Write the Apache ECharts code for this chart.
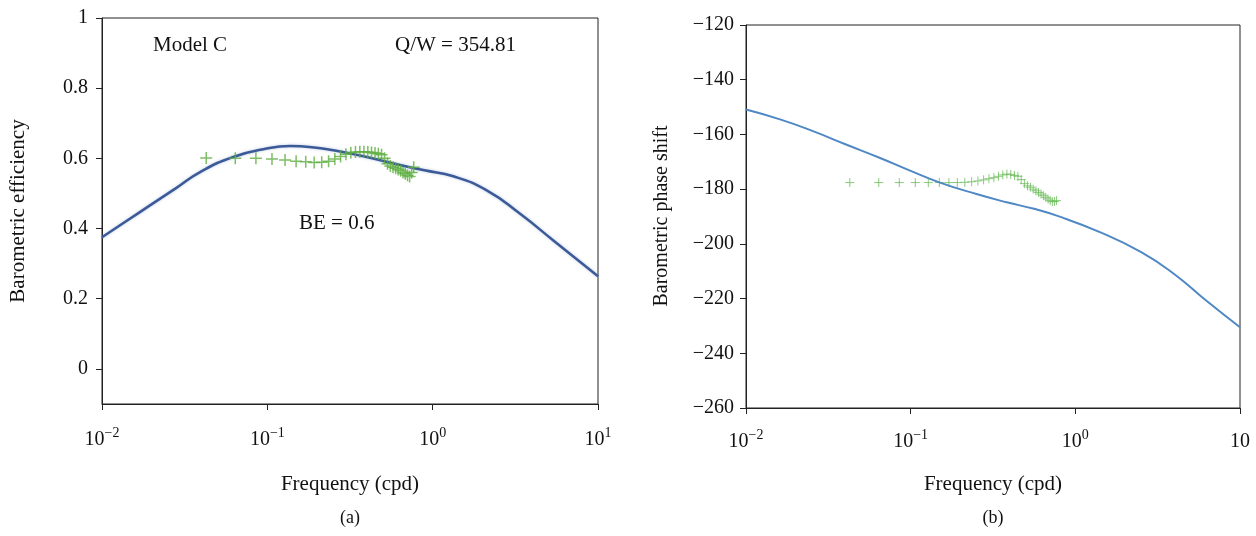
<!DOCTYPE html>
<html>
<head>
<meta charset="utf-8">
<script src="https://cdn.jsdelivr.net/npm/echarts@6/dist/echarts.min.js"></script>
<style>
html,body{margin:0;padding:0;background:#fff;}
#chart{width:1256px;height:536px;}
</style>
</head>
<body>
<div id="chart"></div>
<script>
// Measured frequencies (cpd) of the observed points, shared by both panels
const obsFreq = [0.0427,0.0640,0.0853,0.1067,0.1280,0.1493,0.1707,0.1920,0.2133,0.2347,0.2560,0.2773,0.2987,0.3200,0.3413,0.3627,0.3840,0.4053,0.4267,0.4480,0.4693,0.4907,0.5120,0.5333,0.5547,0.5760,0.5973,0.6187,0.6400,0.6613,0.6827,0.7040,0.7253,0.7467,0.7680];
// Panel (a): observed barometric efficiency
const obsBE = [0.601,0.600,0.600,0.598,0.595,0.592,0.590,0.588,0.589,0.592,0.598,0.605,0.612,0.616,0.618,0.619,0.619,0.618,0.617,0.615,0.613,0.610,0.600,0.585,0.578,0.575,0.572,0.568,0.565,0.560,0.556,0.552,0.548,0.560,0.575];
// Panel (b): observed phase shift
const obsPhase = [-177.6,-177.6,-177.6,-177.6,-177.6,-177.6,-177.6,-177.6,-177.5,-177.3,-177.0,-176.6,-176.2,-175.8,-175.3,-174.8,-174.5,-174.6,-175.0,-175.3,-176.5,-178.0,-178.8,-179.3,-180.0,-180.6,-181.2,-181.8,-182.4,-183.0,-183.6,-184.2,-184.6,-184.5,-184.2];
// Model curves
const modelFreqA = [0.01,0.01413,0.0195,0.0282,0.0392,0.0622,0.0991,0.1371,0.186,0.2512,0.399,0.635,0.891,1.334,2.123,3.38,5.37,10];
const modelBE    = [0.375,0.422,0.466,0.516,0.561,0.604,0.628,0.635,0.632,0.623,0.604,0.581,0.566,0.549,0.509,0.442,0.366,0.264];
const modelFreqB = [0.01,0.0161,0.0255,0.0398,0.0652,0.1,0.1507,0.251,0.383,0.562,0.771,1.41,2.512,3.98,6.31,10];
const modelPhase = [-150.9,-154.5,-158.8,-163.5,-168.6,-173.3,-177.6,-181.8,-184.8,-187.2,-189.7,-195.7,-203,-211,-221,-230.5];
// Tick values
const beTicks = [0,0.2,0.4,0.6,0.8,1];

const FONT = 'Liberation Serif';
const FS = 20;
const FL = 21;
const zip = (a,b)=>a.map((v,i)=>[v,b[i]]);
const minus = s => String(s).replace('-', '\u2212');

function xAxisCfg(idx, lastPlain, margin){
  return {
    type:'log', logBase:10, min:0.01, max:10, gridIndex:idx,
    axisLine:{show:true, onZero:false, lineStyle:{color:'#222', width:1}},
    axisTick:{show:true, inside:false, length:6, lineStyle:{color:'#222'}},
    minorTick:{show:false}, splitLine:{show:false}, minorSplitLine:{show:false},
    axisLabel:{
      margin:margin, color:'#111', fontFamily:FONT,
      formatter:function(v){
        const e = Math.round(Math.log10(v));
        if (lastPlain && e===1) return '{b|10}';
        return '{b|10}{s|' + minus(e) + '}';
      },
      rich:{
        b:{fontSize:FS, fontFamily:FONT, color:'#111', lineHeight:24, verticalAlign:'bottom'},
        s:{fontSize:14, fontFamily:FONT, color:'#111', lineHeight:14, verticalAlign:'top'}
      }
    }
  };
}
const plusSym = 'path://M0,5 L10,5 M5,0 L5,10';

const option = {
  animation:false,
  backgroundColor:'#fff',
  grid:[
    {left:102, top:18, right:658, bottom:132, show:true, borderColor:'#222', borderWidth:1, containLabel:false},
    {left:746, top:25, right:16, bottom:128, show:true, borderColor:'#222', borderWidth:1, containLabel:false}
  ],
  xAxis:[xAxisCfg(0,false,22), xAxisCfg(1,true,20)],
  yAxis:[
    {type:'value', gridIndex:0, min:-0.1, max:1,
     axisLine:{show:true, onZero:false, lineStyle:{color:'#222'}},
     axisTick:{show:true, length:6, lineStyle:{color:'#222'}, customValues:beTicks},
     axisLabel:{customValues:beTicks, margin:14, fontSize:FS, fontFamily:FONT, color:'#111',
                formatter:v=>String(Math.round(v*10)/10)},
     splitLine:{show:false}},
    {type:'value', gridIndex:1, min:-260, max:-120, interval:20,
     axisLine:{show:true, onZero:false, lineStyle:{color:'#222'}},
     axisTick:{show:true, length:6, lineStyle:{color:'#222'}},
     axisLabel:{margin:12, fontSize:FS, fontFamily:FONT, color:'#111', formatter:v=>minus(v)},
     splitLine:{show:false}}
  ],
  series:[
    {type:'line', xAxisIndex:0, yAxisIndex:0, data:zip(modelFreqA, modelBE), smooth:true, showSymbol:false,
     lineStyle:{color:'#3c5a98', width:2.5, shadowColor:'rgba(120,150,200,0.5)', shadowBlur:3}, z:2},
    {type:'scatter', xAxisIndex:0, yAxisIndex:0, data:zip(obsFreq, obsBE), symbol:plusSym, symbolSize:12,
     itemStyle:{color:'rgba(0,0,0,0)', borderColor:'#5cae3e', borderWidth:1.5}, z:3},
    {type:'line', xAxisIndex:1, yAxisIndex:1, data:zip(modelFreqB, modelPhase), smooth:true, showSymbol:false,
     lineStyle:{color:'#4f88c4', width:2}, z:3},
    {type:'scatter', xAxisIndex:1, yAxisIndex:1, data:zip(obsFreq, obsPhase), symbol:plusSym, symbolSize:9,
     itemStyle:{color:'rgba(0,0,0,0)', borderColor:'#6dbd5c', borderWidth:1}, z:2}
  ],
  graphic:[
    {type:'text', left:153, top:35, style:{text:'Model C', font:FL+'px '+FONT, fill:'#111'}},
    {type:'text', left:395, top:35, style:{text:'Q/W = 354.81', font:FL+'px '+FONT, fill:'#111'}},
    {type:'text', left:299, top:213, style:{text:'BE = 0.6', font:FL+'px '+FONT, fill:'#111'}},
    {type:'text', x:18, y:211, rotation:Math.PI/2, style:{text:'Barometric efficiency', font:FL+'px '+FONT, fill:'#111', textAlign:'center', textVerticalAlign:'middle'}},
    {type:'text', x:662, y:216, rotation:Math.PI/2, style:{text:'Barometric phase shift', font:FS+'px '+FONT, fill:'#111', textAlign:'center', textVerticalAlign:'middle'}},
    {type:'text', x:350, y:484, style:{text:'Frequency (cpd)', font:FL+'px '+FONT, fill:'#111', textAlign:'center', textVerticalAlign:'middle'}},
    {type:'text', x:993, y:484, style:{text:'Frequency (cpd)', font:FL+'px '+FONT, fill:'#111', textAlign:'center', textVerticalAlign:'middle'}},
    {type:'text', x:350, y:518, style:{text:'(a)', font:'18px '+FONT, fill:'#111', textAlign:'center', textVerticalAlign:'middle'}},
    {type:'text', x:993, y:518, style:{text:'(b)', font:'18px '+FONT, fill:'#111', textAlign:'center', textVerticalAlign:'middle'}}
  ]
};
const chart = echarts.init(document.getElementById('chart'), null, {renderer:'canvas'});
chart.setOption(option);
</script>
</body>
</html>
